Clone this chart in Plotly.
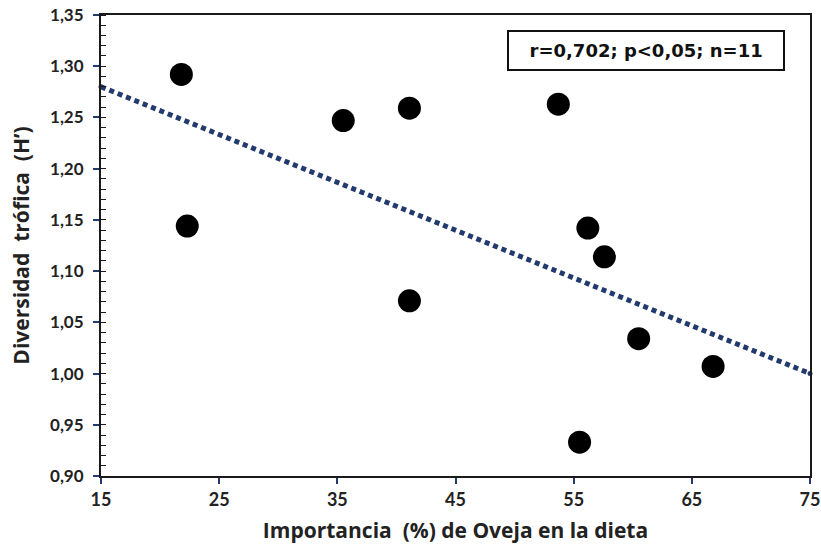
import plotly.graph_objects as go

# Data
oveja_pct = [21.8, 22.3, 35.5, 41.1, 41.1, 53.7, 56.2, 57.6, 60.5, 66.8, 55.5]
diversidad = [1.292, 1.144, 1.247, 1.259, 1.071, 1.263, 1.142, 1.114, 1.034, 1.007, 0.933]
trend_x = [15, 75]
trend_y = [1.280, 1.000]
x_ticks = [15, 25, 35, 45, 55, 65, 75]
y_ticks = [0.90, 0.95, 1.00, 1.05, 1.10, 1.15, 1.20, 1.25, 1.30, 1.35]
y_tick_labels = [f"{v:.2f}".replace(".", ",") for v in y_ticks]
stats_text = "r=0,702; p<0,05; n=11"

navy = "#233a6e"
axis_col = "#1a1a1a"
font_fam = "Lato, 'Open Sans', sans-serif"
title_fam = "'Open Sans', Lato, sans-serif"

fig = go.Figure()
fig.add_trace(go.Scatter(
    x=trend_x, y=trend_y, mode="lines+markers",
    line=dict(color=navy, width=5, dash="5px,4px"),
    marker=dict(size=5, color=navy),
    hoverinfo="skip", showlegend=False, cliponaxis=False))
fig.add_trace(go.Scatter(
    x=oveja_pct, y=diversidad, mode="markers",
    marker=dict(size=23, color="black"),
    showlegend=False, cliponaxis=False))

fig.update_layout(
    width=821, height=551,
    margin=dict(l=101, r=11, t=15, b=75, autoexpand=False),
    plot_bgcolor="white", paper_bgcolor="white",
    font=dict(family=font_fam, color="#222", size=15),
    xaxis=dict(
        range=[15, 75], tickmode="array", tickvals=x_ticks,
        ticktext=[str(v) for v in x_ticks],
        automargin=False,
        showgrid=False, zeroline=False,
        showline=True, linecolor=axis_col, linewidth=2, mirror=True,
        ticks="outside", ticklen=6, tickwidth=1.5, tickcolor=navy,
        tickfont=dict(size=18, family=font_fam, color="#222", weight="bold"),
        title=dict(text="Importancia  (%) de Oveja en la dieta",
                   font=dict(size=21, family=title_fam, color="#222", weight="bold")),
    ),
    yaxis=dict(
        range=[0.90, 1.35], tickmode="array", tickvals=y_ticks,
        ticktext=y_tick_labels,
        automargin=False,
        showgrid=False, zeroline=False,
        showline=True, linecolor=axis_col, linewidth=2, mirror=True,
        ticks="outside", ticklen=6, tickwidth=1.5, tickcolor=navy,
        ticklabelstandoff=6,
        minor=dict(dtick=0.01, ticks="inside", ticklen=5, tickwidth=1, tickcolor=axis_col),
        tickfont=dict(size=17, family=font_fam, color="#222", weight="bold"),
        title=dict(text="Diversidad  trófica  (H’)",
                   font=dict(size=21, family=title_fam, color="#222", weight="bold")),
    ),
)

fig.add_annotation(
    x=0.769, y=0.922, xref="paper", yref="paper",
    text="\u00a0\u00a0" + stats_text + "\u00a0\u00a0", showarrow=False,
    font=dict(size=18, family="'DejaVu Sans', Verdana, sans-serif", color="#111", weight="bold"),
    bordercolor="#111", borderwidth=2, borderpad=8, bgcolor="white",
    xanchor="center", yanchor="middle")

fig.write_html("out.html", config={"displayModeBar": False},
               post_script="document.body.style.margin='0';document.body.style.overflow='hidden';")
